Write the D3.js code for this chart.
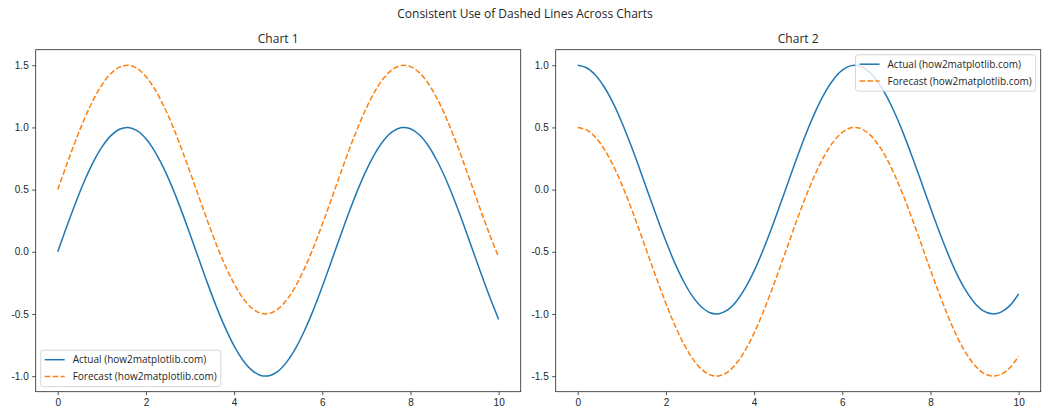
<!DOCTYPE html>
<html><head><meta charset="utf-8">
<script src="https://cdn.jsdelivr.net/npm/d3@7"></script>
<style>
body{margin:0;background:#fff;}
svg{display:block;font-family:"Open Sans","Noto Sans",sans-serif;}
</style></head>
<body><svg id="c" width="1050" height="420"></svg>
<script>
const xValues = [0,0.2,0.4,0.6,0.8,1.0,1.2,1.4,1.6,1.8,2.0,2.2,2.4,2.6,2.8,3.0,3.2,3.4,3.6,3.8,4.0,4.2,4.4,4.6,4.8,5.0,5.2,5.4,5.6,5.8,6.0,6.2,6.4,6.6,6.8,7.0,7.2,7.4,7.6,7.8,8.0,8.2,8.4,8.6,8.8,9.0,9.2,9.4,9.6,9.8,10.0];
const chart1Actual = [0,0.199,0.389,0.565,0.717,0.841,0.932,0.985,1.000,0.974,0.909,0.808,0.675,0.516,0.335,0.141,-0.058,-0.256,-0.443,-0.612,-0.757,-0.872,-0.952,-0.994,-0.996,-0.959,-0.883,-0.773,-0.631,-0.465,-0.279,-0.083,0.117,0.312,0.494,0.657,0.794,0.899,0.968,0.999,0.989,0.941,0.855,0.734,0.585,0.412,0.223,0.025,-0.174,-0.366,-0.544];
const chart1Forecast = [0.5,0.699,0.889,1.065,1.217,1.341,1.432,1.485,1.500,1.474,1.409,1.308,1.175,1.016,0.835,0.641,0.442,0.244,0.057,-0.112,-0.257,-0.372,-0.452,-0.494,-0.496,-0.459,-0.383,-0.273,-0.131,0.035,0.221,0.417,0.617,0.812,0.994,1.157,1.294,1.399,1.468,1.499,1.489,1.441,1.355,1.234,1.085,0.912,0.723,0.525,0.326,0.134,-0.044];
const chart2Actual = [1.000,0.980,0.921,0.825,0.697,0.540,0.362,0.170,-0.029,-0.227,-0.416,-0.589,-0.737,-0.857,-0.942,-0.990,-0.998,-0.967,-0.897,-0.791,-0.654,-0.490,-0.307,-0.112,0.087,0.284,0.469,0.635,0.776,0.886,0.960,0.997,0.993,0.950,0.869,0.754,0.608,0.438,0.250,0.054,-0.146,-0.339,-0.519,-0.680,-0.811,-0.911,-0.975,-0.999,-0.985,-0.933,-0.839];
const chart2Forecast = [0.500,0.480,0.421,0.325,0.197,0.040,-0.138,-0.330,-0.529,-0.727,-0.916,-1.089,-1.237,-1.357,-1.442,-1.490,-1.498,-1.467,-1.397,-1.291,-1.154,-0.990,-0.807,-0.612,-0.413,-0.216,-0.031,0.135,0.276,0.386,0.460,0.497,0.493,0.450,0.369,0.254,0.108,-0.062,-0.250,-0.446,-0.646,-0.839,-1.019,-1.180,-1.311,-1.411,-1.475,-1.499,-1.485,-1.433,-1.339];
const xTicks = [0,2,4,6,8,10];
const chart1YTicks = [-1.0,-0.5,0.0,0.5,1.0,1.5];
const chart2YTicks = [-1.5,-1.0,-0.5,0.0,0.5,1.0];
const seriesNames = ["Actual (how2matplotlib.com)","Forecast (how2matplotlib.com)"];
const titles = ["Chart 1","Chart 2"];
const suptitle = "Consistent Use of Dashed Lines Across Charts";

const svg = d3.select("#c");
const colors = ["#1f77b4","#ff7f0e"];
const textColor = "#262626";

svg.append("text").attr("x",525).attr("y",18).attr("text-anchor","middle")
  .attr("font-size",12).attr("fill",textColor).text(suptitle);

function panel(cfg){
  const {left,right,top,bottom,xDom,yDom,yTicks,actual,forecast,title,legendPos} = cfg;
  const x = d3.scaleLinear().domain(xDom).range([left,right]);
  const y = d3.scaleLinear().domain(yDom).range([bottom,top]);
  const g = svg.append("g");
  const line = d3.line().x((d,i)=>x(xValues[i])).y(d=>y(d)).curve(d3.curveCatmullRom);
  g.append("path").datum(actual).attr("d",line).attr("fill","none")
    .attr("stroke",colors[0]).attr("stroke-width",1.5);
  g.append("path").datum(forecast).attr("d",line).attr("fill","none")
    .attr("stroke",colors[1]).attr("stroke-width",1.5).attr("stroke-dasharray","5.55,2.4");
  const xa = g.append("g").attr("transform",`translate(0,${bottom})`)
    .call(d3.axisBottom(x).tickValues(xTicks).tickFormat(d3.format("d")).tickSize(3.5).tickPadding(3.5));
  const ya = g.append("g").attr("transform",`translate(${left},0)`)
    .call(d3.axisLeft(y).tickValues(yTicks).tickFormat(d=>d3.format(".1f")(d).replace("−","-")).tickSize(3.5).tickPadding(3.5));
  [xa,ya].forEach(a=>{
    a.select(".domain").remove();
    a.selectAll("line").attr("stroke",textColor).attr("stroke-width",0.8);
    a.selectAll("text").attr("font-size",10).attr("fill",textColor).attr("font-family",null);
  });
  g.append("rect").attr("x",left).attr("y",top).attr("width",right-left).attr("height",bottom-top)
    .attr("fill","none").attr("stroke",textColor).attr("stroke-width",0.8);
  g.append("text").attr("x",(left+right)/2).attr("y",top-6.5).attr("text-anchor","middle")
    .attr("font-size",12).attr("fill",textColor).text(title);
  // legend
  const lg = g.append("g");
  const box = lg.append("rect");
  const texts = seriesNames.map((n,i)=>lg.append("text").attr("font-size",10).attr("fill",textColor).text(n));
  const tw = d3.max(texts, t=>t.node().getComputedTextLength());
  const lw = 36 + tw, lh = 36.5;
  const lx = legendPos === "lower left" ? left + 5 : right - 5 - lw;
  const ly = legendPos === "lower left" ? bottom - 5 - lh : top + 5;
  box.attr("x",lx).attr("y",ly).attr("width",lw).attr("height",lh)
    .attr("rx",2.5).attr("fill","white").attr("fill-opacity",0.8).attr("stroke","#cccccc").attr("stroke-width",0.8);
  seriesNames.forEach((n,i)=>{
    const cy = ly + 9.5 + i*16.8;
    lg.append("line").attr("x1",lx+4).attr("x2",lx+24).attr("y1",cy).attr("y2",cy)
      .attr("stroke",colors[i]).attr("stroke-width",1.5).attr("stroke-dasharray",i?"5.55,2.4":null);
    texts[i].attr("x",lx+32).attr("y",cy+3.6);
  });
}

panel({left:35.7,right:520.7,top:49.7,bottom:391.7,xDom:[-0.5,10.5],yDom:[-1.125,1.625],yTicks:chart1YTicks,
  actual:chart1Actual,forecast:chart1Forecast,title:titles[0],legendPos:"lower left"});
panel({left:555.7,right:1040.7,top:49.7,bottom:391.7,xDom:[-0.5,10.5],yDom:[-1.625,1.125],yTicks:chart2YTicks,
  actual:chart2Actual,forecast:chart2Forecast,title:titles[1],legendPos:"upper right"});
</script></body></html>
